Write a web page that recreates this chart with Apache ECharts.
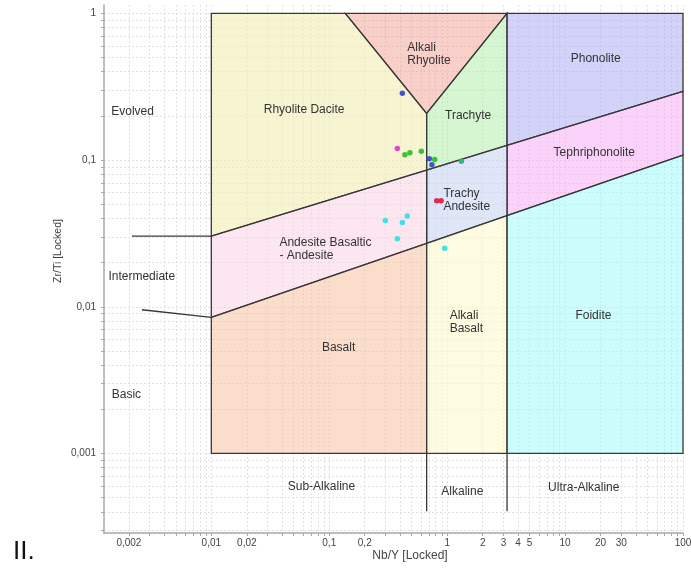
<!DOCTYPE html>
<html>
<head>
<meta charset="utf-8">
<title>Nb/Y – Zr/Ti</title>
<script src="https://cdn.jsdelivr.net/npm/echarts@6/dist/echarts.min.js"></script>
<style>
  html, body { margin: 0; padding: 0; background: #ffffff; }
  #chart { width: 691px; height: 568px; }
</style>
</head>
<body>
<div id="chart"></div>
<script>
// Sample compositions as [Nb/Y, Zr/Ti]
const samplesBlue    = [[0.417, 0.285], [0.706, 0.102], [0.743, 0.0929]];
const samplesMagenta = [[0.378, 0.120]];
const samplesGreen   = [[0.438, 0.1087], [0.483, 0.112], [0.604, 0.1146], [0.783, 0.101]];
const samplesTeal    = [[1.32, 0.098]];
const samplesRed     = [[0.815, 0.0528], [0.889, 0.0528]];
const samplesCyan    = [[0.299, 0.0388], [0.417, 0.0376], [0.459, 0.0415], [0.378, 0.0291], [0.953, 0.0251]];

// Axis ranges and labelled ticks
const xRange = [0.00123, 100];
const yRange = [0.000287, 1.14];
const xTickLabels = [0.002, 0.01, 0.02, 0.1, 0.2, 1, 2, 3, 4, 5, 10, 20, 30, 100];
const yTickLabels = [0.001, 0.01, 0.1, 1];

// Field boundaries (Nb/Y, Zr/Ti)
const fieldBox = [[0.01, 0.001], [100, 1]];
const subAlkalineLimit = 0.67;
const alkalineLimit = 3.22;
const wedgeTopLeft = 0.137;
const wedgeApexZrTi = 0.208;
const evolvedLine = [[0.01, 0.0303], [100, 0.294]];
const basicLine = [[0.01, 0.00847], [100, 0.108]];
const evolvedTail = [[0.00212, 0.0303], [0.01, 0.0303]];
const basicTail = [[0.00258, 0.00954], [0.01, 0.00847]];
const dividerFoot = 0.000404;

// Field and group names with their anchor points (Nb/Y, Zr/Ti)
const fieldLabels = [
  { text: 'Alkali\nRhyolite', at: [0.459, 0.524], align: 'left' },
  { text: 'Phonolite', at: [18.2, 0.493] },
  { text: 'Rhyolite Dacite', at: [0.0612, 0.2216] },
  { text: 'Trachyte', at: [1.507, 0.1995] },
  { text: 'Tephriphonolite', at: [17.7, 0.112] },
  { text: 'Trachy\nAndesite', at: [0.929, 0.0536], align: 'left' },
  { text: 'Andesite Basaltic\n- Andesite', at: [0.0378, 0.0248], align: 'left' },
  { text: 'Basalt', at: [0.12, 0.00522] },
  { text: 'Alkali\nBasalt', at: [1.05, 0.00788], align: 'left' },
  { text: 'Foidite', at: [17.4, 0.00867] },
  { text: 'Evolved', at: [0.001416, 0.212], align: 'left' },
  { text: 'Intermediate', at: [0.00134, 0.016], align: 'left' },
  { text: 'Basic', at: [0.00143, 0.0025], align: 'left' },
  { text: 'Sub-Alkaline', at: [0.0859, 0.000592] },
  { text: 'Alkaline', at: [1.345, 0.000553] },
  { text: 'Ultra-Alkaline', at: [14.4, 0.000586] }
];

const lg = Math.log10;

// Zr/Ti of a straight (log-log) boundary at a given Nb/Y
function onLine(line, x) {
  const x0 = lg(line[0][0]), y0 = lg(line[0][1]);
  const x1 = lg(line[1][0]), y1 = lg(line[1][1]);
  const t = (lg(x) - x0) / (x1 - x0);
  return Math.pow(10, y0 + t * (y1 - y0));
}

// Every 1..9 x 10^n step inside a range, in log units
function logSteps(lo, hi) {
  const out = [];
  for (let e = Math.floor(lg(lo)); e <= Math.ceil(lg(hi)); e++) {
    for (let k = 1; k <= 9; k++) {
      const v = k * Math.pow(10, e);
      if (v >= lo * 0.9999 && v <= hi * 1.0001) out.push(lg(v));
    }
  }
  return out;
}

const x0 = fieldBox[0][0], x1 = fieldBox[1][0];
const y0 = fieldBox[0][1], y1 = fieldBox[1][1];
const xa = subAlkalineLimit, xb = alkalineLimit;
const evA = onLine(evolvedLine, xa), evB = onLine(evolvedLine, xb);
const bsA = onLine(basicLine, xa), bsB = onLine(basicLine, xb);
const ev0 = evolvedLine[0][1], ev1 = evolvedLine[1][1];
const bs0 = basicLine[0][1], bs1 = basicLine[1][1];

const fields = [
  { name: 'Rhyolite Dacite', color: 'rgba(240,237,180,0.62)',
    poly: [[x0, y1], [wedgeTopLeft, y1], [xa, wedgeApexZrTi], [xa, evA], [x0, ev0]] },
  { name: 'Alkali Rhyolite', color: 'rgba(243,150,140,0.46)',
    poly: [[wedgeTopLeft, y1], [xb, y1], [xa, wedgeApexZrTi]] },
  { name: 'Trachyte', color: 'rgba(175,238,165,0.52)',
    poly: [[xa, wedgeApexZrTi], [xb, y1], [xb, evB], [xa, evA]] },
  { name: 'Phonolite', color: 'rgba(170,170,243,0.52)',
    poly: [[xb, y1], [x1, y1], [x1, ev1], [xb, evB]] },
  { name: 'Tephriphonolite', color: 'rgba(248,165,244,0.5)',
    poly: [[xb, evB], [x1, ev1], [x1, bs1], [xb, bsB]] },
  { name: 'Trachy Andesite', color: 'rgba(198,212,243,0.58)',
    poly: [[xa, evA], [xb, evB], [xb, bsB], [xa, bsA]] },
  { name: 'Andesite Basaltic - Andesite', color: 'rgba(249,210,228,0.55)',
    poly: [[x0, ev0], [xa, evA], [xa, bsA], [x0, bs0]] },
  { name: 'Basalt', color: 'rgba(248,190,155,0.52)',
    poly: [[x0, bs0], [xa, bsA], [xa, y0], [x0, y0]] },
  { name: 'Alkali Basalt', color: 'rgba(252,250,205,0.6)',
    poly: [[xa, bsA], [xb, bsB], [xb, y0], [xa, y0]] },
  { name: 'Foidite', color: 'rgba(160,250,250,0.52)',
    poly: [[xb, bsB], [x1, bs1], [x1, y0], [xb, y0]] }
];

const toLog = pts => pts.map(p => [lg(p[0]), lg(p[1])]);
const fmt = v => String(Number(Math.pow(10, v).toPrecision(6))).replace('.', ',');

const font = '"Liberation Sans", Arial, sans-serif';
const lineColor = '#383838';

function boundary(pts) {
  return {
    type: 'line', data: toLog(pts), symbol: 'none', silent: true, z: 3,
    lineStyle: { color: lineColor, width: 1.3 }
  };
}

function samples(pts, color) {
  return {
    type: 'scatter', data: toLog(pts), symbol: 'circle', symbolSize: 5.5, z: 5,
    itemStyle: { color: color, opacity: 0.95 }
  };
}

const gridLine = { show: true, lineStyle: { color: '#e2e2e2', width: 1, type: [2, 2] } };
const axisLine = { onZero: false, lineStyle: { color: '#a8a8a8', width: 1.5 } };

const chart = echarts.init(document.getElementById('chart'), null, { renderer: 'canvas' });

chart.setOption({
  animation: false,
  backgroundColor: '#ffffff',
  grid: { left: 104, right: 8, top: 5, bottom: 35, containLabel: false, outerBoundsMode: 'none' },
  xAxis: {
    type: 'value',
    min: lg(xRange[0]), max: lg(xRange[1]),
    axisLine: axisLine,
    axisTick: { show: true, length: 3, customValues: logSteps(xRange[0], xRange[1]), lineStyle: { color: '#a8a8a8' } },
    axisLabel: { customValues: xTickLabels.map(lg), formatter: fmt, fontFamily: font, fontSize: 10, color: '#444', margin: 5 },
    splitLine: gridLine
  },
  yAxis: {
    type: 'value',
    min: lg(yRange[0]), max: lg(yRange[1]),
    axisLine: axisLine,
    axisTick: { show: true, length: 3, customValues: logSteps(yRange[0], yRange[1]), lineStyle: { color: '#a8a8a8' } },
    axisLabel: { customValues: yTickLabels.map(lg), formatter: fmt, fontFamily: font, fontSize: 10, color: '#444', margin: 8 },
    splitLine: gridLine
  },
  graphic: [
    { type: 'text', x: 410, y: 556,
      style: { text: 'Nb/Y [Locked]', font: '12px ' + font, fill: '#444', align: 'center', verticalAlign: 'middle' } },
    { type: 'text', x: 58, y: 251, rotation: Math.PI / 2,
      style: { text: 'Zr/Ti [Locked]', font: '10.5px ' + font, fill: '#444', align: 'center', verticalAlign: 'middle' } },
    { type: 'text', left: 13, top: 539, style: { text: 'II.', font: '26px ' + font, fill: '#111' } }
  ],
  series: [
    {
      type: 'custom', silent: true, z: 1,
      data: fields.map(f => [lg(f.poly[0][0]), lg(f.poly[0][1])]),
      renderItem: (params, api) => {
        const f = fields[params.dataIndex];
        return {
          type: 'polygon',
          shape: { points: toLog(f.poly).map(p => api.coord(p)) },
          style: { fill: f.color, stroke: lineColor, lineWidth: 1.3 }
        };
      }
    },
    boundary(evolvedTail),
    boundary(basicTail),
    boundary([[xa, y0], [xa, dividerFoot]]),
    boundary([[xb, y0], [xb, dividerFoot]]),
    {
      type: 'custom', silent: true, z: 4,
      data: fieldLabels.map(l => [lg(l.at[0]), lg(l.at[1])]),
      renderItem: (params, api) => {
        const l = fieldLabels[params.dataIndex];
        const p = api.coord([lg(l.at[0]), lg(l.at[1])]);
        return {
          type: 'text', x: p[0], y: p[1],
          style: {
            text: l.text, fill: '#333', font: '12px ' + font,
            align: l.align || 'center', verticalAlign: 'middle', lineHeight: 13
          }
        };
      }
    },
    samples(samplesBlue, '#3b4cc6'),
    samples(samplesMagenta, '#e03fc6'),
    samples(samplesGreen, '#2fbf2f'),
    samples(samplesTeal, '#2bb27c'),
    samples(samplesRed, '#e3204c'),
    samples(samplesCyan, '#36e2e2')
  ]
});
</script>
</body>
</html>
